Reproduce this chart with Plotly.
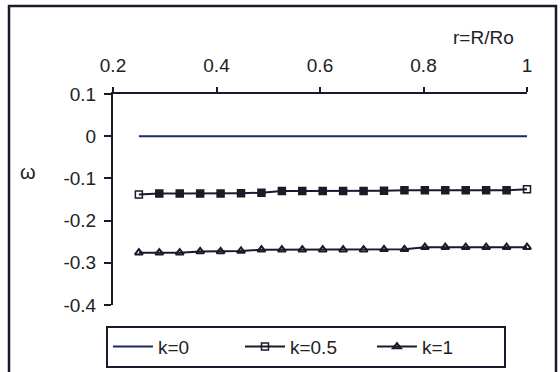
import plotly.graph_objects as go

r = [0.25 + i * 0.75 / 19 for i in range(20)]
k0 = [0.0] * 20
k05 = [-0.138, -0.136, -0.136, -0.136, -0.136, -0.135, -0.134, -0.130, -0.130, -0.130,
       -0.130, -0.130, -0.129, -0.128, -0.128, -0.128, -0.128, -0.128, -0.128, -0.126]
k1 = [-0.276, -0.276, -0.276, -0.273, -0.273, -0.272, -0.269, -0.269, -0.269, -0.269,
      -0.269, -0.269, -0.268, -0.268, -0.263, -0.263, -0.263, -0.263, -0.263, -0.263]
names = ["k=0", "k=0.5", "k=1"]
xticks = [0.2, 0.4, 0.6, 0.8, 1.0]
xticktext = ["0.2", "0.4", "0.6", "0.8", "1"]
yticks = [0.1, 0.0, -0.1, -0.2, -0.3, -0.4]
yticktext = ["0.1", "0", "-0.1", "-0.2", "-0.3", "-0.4"]

ink = "#1a1a2a"
font = "Liberation Sans, Arial, sans-serif"

sq_sym = ["square-open"] + ["square"] * 18 + ["square-open"]

fig = go.Figure()
fig.add_trace(go.Scatter(x=r, y=k0, name=names[0], mode="lines",
                         line=dict(color="#1c2a5e", width=2), cliponaxis=False))
fig.add_trace(go.Scatter(x=r, y=k05, name=names[1], mode="lines+markers",
                         line=dict(color=ink, width=2),
                         marker=dict(symbol=sq_sym, size=7, color=ink,
                                     line=dict(color=ink, width=1.5)),
                         cliponaxis=False))
fig.add_trace(go.Scatter(x=r, y=k1, name=names[2], mode="lines+markers",
                         line=dict(color=ink, width=2),
                         marker=dict(symbol="triangle-up-open", size=7, color=ink,
                                     line=dict(color=ink, width=2)),
                         cliponaxis=False))

fig.update_layout(
    width=560, height=372,
    margin=dict(l=113, r=33, t=94, b=67, autoexpand=False),
    paper_bgcolor="white", plot_bgcolor="white",
    font=dict(family=font, size=19, color="#222"),
    showlegend=True,
    legend=dict(orientation="h", x=-0.017, y=-0.098, xanchor="left", yanchor="top",
                bordercolor=ink, borderwidth=2, bgcolor="white",
                font=dict(size=19), entrywidth=77, entrywidthmode="pixels",
                itemwidth=40),
    xaxis=dict(range=[0.2, 1.0], side="top", showgrid=False, zeroline=False,
               showline=True, linecolor=ink, linewidth=2,
               ticks="outside", ticklen=5, tickwidth=1.5, tickcolor=ink,
               tickvals=xticks, ticktext=xticktext, ticklabelstandoff=7),
    yaxis=dict(range=[-0.4, 0.1], showgrid=False, zeroline=False,
               showline=True, linecolor=ink, linewidth=2,
               ticks="outside", ticklen=7, tickwidth=1.5, tickcolor=ink,
               tickvals=yticks, ticktext=yticktext, ticklabelstandoff=4),
)

fig.add_annotation(text="r=R/Ro", xref="paper", yref="paper",
                   x=(483 - 113) / 414, y=(305 - 37) / 211, showarrow=False,
                   font=dict(size=19), xanchor="center", yanchor="middle")
fig.add_annotation(text="ω", xref="paper", yref="paper",
                   x=(28 - 113) / 414, y=(305 - 172) / 211, showarrow=False,
                   font=dict(size=20), xanchor="center", yanchor="middle")

fig.add_shape(type="rect", xref="paper", yref="paper",
              x0=(9 - 113) / 414, x1=(556 - 113) / 414,
              y0=(305 - 380) / 211, y1=(305 - 6) / 211,
              line=dict(color=ink, width=2.5), layer="below")

fig.write_html("out.html")
